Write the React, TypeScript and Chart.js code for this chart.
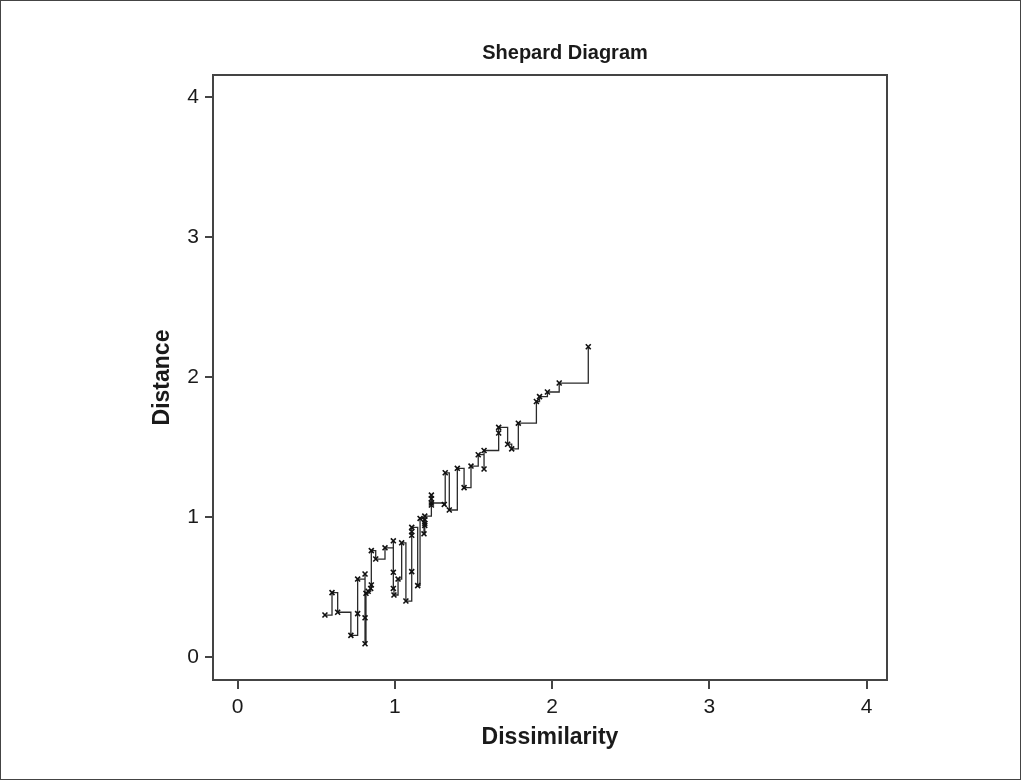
import React, { useEffect, useRef } from "react";
import { Chart, registerables } from "chart.js";

Chart.register(...registerables);

const dissimilarity = [0.555, 0.6, 0.636, 0.72, 0.763, 0.763, 0.81, 0.81, 0.81, 0.816, 0.83, 0.846, 0.85, 0.85, 0.878, 0.937, 0.99, 0.99, 0.99, 0.994, 1.02, 1.043, 1.07, 1.107, 1.107, 1.107, 1.107, 1.145, 1.16, 1.185, 1.19, 1.19, 1.19, 1.19, 1.232, 1.232, 1.232, 1.232, 1.314, 1.32, 1.346, 1.397, 1.44, 1.484, 1.53, 1.567, 1.567, 1.66, 1.66, 1.717, 1.743, 1.785, 1.9, 1.92, 1.97, 2.045, 2.23];
const distance = [0.3, 0.46, 0.32, 0.155, 0.31, 0.557, 0.593, 0.28, 0.095, 0.455, 0.47, 0.49, 0.515, 0.76, 0.7, 0.78, 0.83, 0.605, 0.49, 0.443, 0.557, 0.816, 0.4, 0.61, 0.87, 0.895, 0.926, 0.51, 0.99, 0.88, 0.94, 0.955, 0.98, 1.007, 1.086, 1.13, 1.157, 1.1, 1.09, 1.316, 1.05, 1.348, 1.21, 1.364, 1.445, 1.343, 1.475, 1.6, 1.64, 1.52, 1.487, 1.67, 1.825, 1.86, 1.893, 1.957, 2.216];
const xTicks = [0, 1, 2, 3, 4];
const yTicks = [0, 1, 2, 3, 4];
const chartTitle = "Shepard Diagram";
const xTitle = "Dissimilarity";
const yTitle = "Distance";

const FONT = "'Liberation Sans', Arial, Helvetica, sans-serif";

const decor = {
  id: "decor",
  afterDraw(chart: any) {
    const { ctx, chartArea } = chart;
    const W = chart.width;
    const H = chart.height;
    ctx.save();
    // outer frame
    ctx.strokeStyle = "#444";
    ctx.lineWidth = 1;
    ctx.strokeRect(0.5, 0.5, W - 1, H - 1);
    // plot frame
    ctx.strokeStyle = "#444";
    ctx.lineWidth = 2;
    ctx.strokeRect(chartArea.left, chartArea.top, chartArea.right - chartArea.left, chartArea.bottom - chartArea.top);
    // texts
    ctx.fillStyle = "#1a1a1a";
    ctx.textAlign = "center";
    ctx.textBaseline = "middle";
    const cx = (chartArea.left + chartArea.right) / 2;
    ctx.font = `bold 20px ${FONT}`;
    ctx.fillText(chartTitle, cx + 15, 53);
    ctx.font = `bold 23px ${FONT}`;
    ctx.fillText(xTitle, cx, 738);
    ctx.translate(163, (chartArea.top + chartArea.bottom) / 2);
    ctx.rotate(-Math.PI / 2);
    ctx.fillText(yTitle, 0, 0);
    ctx.restore();
  },
};

export default function App() {
  const ref = useRef<HTMLCanvasElement>(null);
  useEffect(() => {
    document.body.style.margin = "0";
    const canvas = ref.current!;
    const points = dissimilarity.map((x, i) => ({ x, y: distance[i] }));
    const chart = new Chart(canvas, {
      type: "line",
      data: {
        datasets: [
          {
            data: points,
            stepped: true,
            borderColor: "#2a2a2a",
            borderWidth: 1.3,
            pointStyle: "crossRot",
            pointRadius: 3.5,
            pointBorderWidth: 1.6,
            pointBorderColor: "#111",
            pointBackgroundColor: "#111",
            fill: false,
          } as any,
        ],
      },
      options: {
        responsive: false,
        animation: false,
        devicePixelRatio: 1,
        layout: { padding: { left: 0, right: 134, top: 75, bottom: 0 } },
        plugins: { legend: { display: false }, tooltip: { enabled: false }, title: { display: false } },
        scales: {
          x: {
            type: "linear",
            min: -0.157,
            max: 4.13,
            afterFit: (s: any) => {
              s.height = 100;
            },
            afterBuildTicks: (s: any) => {
              s.ticks = xTicks.map((v) => ({ value: v }));
            },
            ticks: {
              includeBounds: false,
              color: "#1a1a1a",
              font: { family: FONT, size: 21 },
              padding: 6,
              maxRotation: 0,
            },
            grid: { display: true, drawOnChartArea: false, drawTicks: true, tickLength: 9, color: "#444", lineWidth: 2 },
            border: { display: true, color: "#444", width: 2 },
          },
          y: {
            type: "linear",
            min: -0.164,
            max: 4.157,
            afterFit: (s: any) => {
              s.width = 213;
            },
            afterBuildTicks: (s: any) => {
              s.ticks = yTicks.map((v) => ({ value: v }));
            },
            ticks: {
              includeBounds: false,
              color: "#1a1a1a",
              font: { family: FONT, size: 21 },
              padding: 6,
            },
            grid: { display: true, drawOnChartArea: false, drawTicks: true, tickLength: 8, color: "#444", lineWidth: 2 },
            border: { display: true, color: "#444", width: 2 },
          },
        },
      },
      plugins: [decor],
    });
    return () => chart.destroy();
  }, []);
  return <canvas ref={ref} width={1021} height={780} style={{ display: "block", width: 1021, height: 780 }} />;
}
